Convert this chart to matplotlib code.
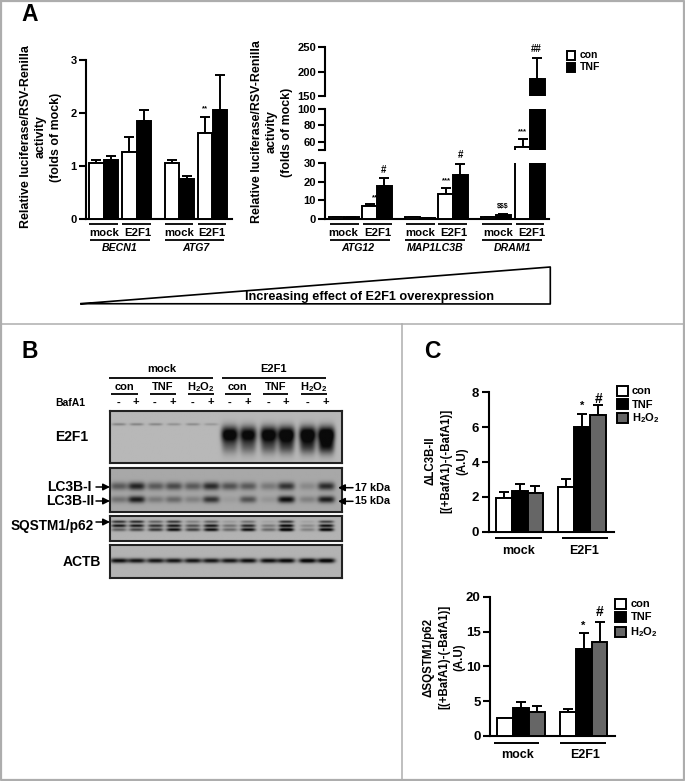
import numpy as np
import matplotlib
matplotlib.use('Agg')
import matplotlib.pyplot as plt

plt.rcParams['font.family'] = ['Liberation Sans', 'DejaVu Sans']
plt.rcParams['font.weight'] = 'bold'
plt.rcParams['mathtext.fontset'] = 'custom'
plt.rcParams['mathtext.default'] = 'regular'
plt.rcParams['mathtext.rm'] = 'Liberation Sans:bold'

W, H = 685, 781

# panel A, left
a1_con = [1.05, 1.26, 1.06, 1.63]
a1_con_top = [1.11, 1.55, 1.11, 1.93]
a1_tnf = [1.12, 1.84, 0.75, 2.05]
a1_tnf_top = [1.18, 2.06, 0.82, 2.72]
a1_genes = ['BECN1', 'ATG7']

# panel A, right
a2_con = [1.0, 7.3, 1.0, 13.5, 1.0, 54.5]
a2_con_top = [1.0, 8.3, 1.0, 16.5, 1.0, 64.0]
a2_tnf = [1.0, 17.8, 0.9, 23.5, 2.5, 185.0]
a2_tnf_top = [1.0, 22.0, 0.9, 29.5, 2.8, 229.0]
a2_genes = ['ATG12', 'MAP1LC3B', 'DRAM1']

# panel C
c1_vals = [[1.95, 2.35, 2.2], [2.55, 6.0, 6.7]]
c1_tops = [[2.3, 2.72, 2.6], [3.0, 6.75, 7.25]]
c2_vals = [[2.55, 4.0, 3.5], [3.4, 12.5, 13.5]]
c2_tops = [[2.65, 4.85, 4.3], [3.9, 14.8, 16.4]]

# blot band strength per lane (12 lanes)
e2f1_faint = [.3, .3, .28, .22, .25, .18, 0, 0, 0, 0, 0, 0]
e2f1_main = [0, 0, 0, 0, 0, 0, 1.2, 1.1, 1.2, 1.25, 1.25, 1.3]
e2f1_tail = [0, 0, 0, 0, 0, 0, .4, .45, .5, .6, .65, .85]
lc3_i = [.5, .85, .5, .6, .5, .8, .55, .5, .3, .75, .2, .8]
lc3_ii = [.35, .9, .3, .4, .25, .75, .08, .55, .12, 1, .25, .9]
p62_top = [.8, .85, .5, .75, .3, .5, .15, .4, .1, .8, .1, .7]
p62_mid = [.95, .95, .8, .95, .6, .95, .4, .85, .35, 1.1, .25, 1]
p62_low = [.5, .65, .75, 1, .7, 1, .45, 1, .45, 1.2, .3, 1.1]
actb = [1, .95, .95, .95, .95, .95, .95, 1, 1, 1.05, 1.1, 1.1]
lanes = [118.3, 136, 155, 173.3, 192.3, 210.7, 229.3, 247.7, 268.3, 286, 307.3, 326]


fig = plt.figure(figsize=(W / 100, H / 100), dpi=100, facecolor='white')
bg = fig.add_axes([0, 0, 1, 1])
bg.set_xlim(0, W)
bg.set_ylim(H, 0)
bg.axis('off')
bg.set_zorder(5)


def px_axes(x0, x1, top, bottom):
    ax = fig.add_axes([x0 / W, 1 - bottom / H, (x1 - x0) / W, (bottom - top) / H])
    ax.patch.set_alpha(0)
    ax.set_xlim(x0, x1)
    for s in ['top', 'right']:
        ax.spines[s].set_visible(False)
    for s in ax.spines.values():
        s.set_linewidth(1.5)
    ax.tick_params(width=1.5, length=5, labelsize=8, pad=1.5)
    ax.set_xticks([])
    return ax


def bar(ax, x, w, v, top, color):
    ax.bar(x, v, w, color=color, edgecolor='black', linewidth=1.4, zorder=3)
    ax.errorbar(x, v, yerr=[[0], [top - v]], color='black', capsize=3.6, elinewidth=1.4,
                capthick=1.4, zorder=2)


def t(x, y, s, size=8.5, **kw):
    kw.setdefault('ha', 'center')
    kw.setdefault('va', 'center')
    bg.text(x, y, s, fontsize=size, **kw)


def hline(x0, x1, y, lw=1.3):
    bg.plot([x0, x1], [y, y], color='black', lw=lw, solid_capstyle='butt')


def arrow(x0, x1, y):
    bg.annotate('', xy=(x1, y), xytext=(x0, y),
                arrowprops=dict(arrowstyle='-|>', color='black', lw=1.1, mutation_scale=10,
                                shrinkA=0, shrinkB=0))


# frame lines between the panels
frame = '#adadad'
bg.plot([0.5, W - 0.5, W - 0.5, 0.5, 0.5], [0.5, 0.5, H - 1.5, H - 1.5, 0.5], color=frame, lw=1.6)
bg.plot([0, W], [324, 324], color=frame, lw=1.1)
bg.plot([402.5, 402.5], [324, H], color=frame, lw=1.1)

t(29.5, 14.5, 'A', 16.5)
t(29.5, 351.5, 'B', 16.5)
t(432, 352, 'C', 16.5)

# A left
ax = px_axes(85.5, 232, 60, 219)
ax.set_ylim(0, 3)
ax.set_yticks([0, 1, 2, 3])
step = 14.6
for i, x in enumerate([103.5, 136.5, 179.5, 212.5]):
    bar(ax, x - step / 2, step, a1_con[i], a1_con_top[i], 'white')
    bar(ax, x + step / 2, step, a1_tnf[i], a1_tnf_top[i], 'black')

t(26, 137, 'Relative luciferase/RSV-Renilla', 8.9, rotation=90)
t(41, 137, 'activity', 8.9, rotation=90)
t(56, 137, '(folds of mock)', 8.9, rotation=90)
t(257, 132, 'Relative luciferase/RSV-Renilla', 8.9, rotation=90)
t(272, 132, 'activity', 8.9, rotation=90)
t(287, 132, '(folds of mock)', 8.9, rotation=90)

for x0, x1 in [(89.3, 118), (122, 151), (165, 193), (198, 226)]:
    hline(x0, x1, 224)
for x, s in [(104, 'mock'), (138, 'E2F1'), (179, 'mock'), (212, 'E2F1')]:
    t(x, 232.5, s, 8.2)
for i, (x0, x1) in enumerate([(90, 149.7), (165, 224)]):
    hline(x0, x1, 239.5)
    t([120, 196][i], 248, a1_genes[i], 7.6, style='italic')
t(205, 109, '**', 5.5)

# A right, axis broken in three pieces
spans = [(0, 30, 162.7, 219.3), (50, 100, 108.7, 150.3), (150, 250, 47.3, 96)]
ticks = [[0, 10, 20, 30], [50, 60, 80, 100], [150, 200, 250]]
labels = [['0', '10', '20', '30'], ['', '60', '80', '100'], ['150', '200', '250']]
for k, (lo, hi, top, bottom) in enumerate(spans):
    ax = px_axes(325, 549, top, bottom)
    ax.set_ylim(lo, hi)
    ax.set_yticks(ticks[k])
    ax.set_yticklabels(labels[k])
    if k > 0:
        ax.spines['bottom'].set_visible(False)
    for i, x in enumerate([344, 377, 420, 453, 496, 530]):
        if a2_con_top[i] > lo:
            bar(ax, x - step / 2, step, a2_con[i], a2_con_top[i], 'white')
        if a2_tnf_top[i] > lo:
            bar(ax, x + step / 2, step, a2_tnf[i], a2_tnf_top[i], 'black')

for x0, x1 in [(330, 359), (362.7, 391.7), (405.7, 435), (438.3, 466.7), (482.3, 511.7), (515.7, 544.3)]:
    hline(x0, x1, 224)
for x, s in [(343.3, 'mock'), (377.7, 'E2F1'), (420, 'mock'), (454, 'E2F1'), (497.7, 'mock'), (531.7, 'E2F1')]:
    t(x, 232.7, s, 8.2)
for i, (x0, x1) in enumerate([(330, 390), (405, 465), (482.3, 542.3)]):
    hline(x0, x1, 240)
    t([358, 435, 512.7][i], 248, a2_genes[i], 7.6, style='italic')
for x, y, s, size in [(376, 198, '***', 5.5), (384, 170, '#', 7), (446, 180.7, '***', 5.5), (461, 155, '#', 7),
                      (503, 206.7, '$$$', 5), (522, 131.7, '***', 5.5), (536, 49.3, '##', 7)]:
    t(x, y, s.replace('$', r'\$'), size)

bg.add_patch(plt.Rectangle((567, 50.5), 8.5, 9.5, fc='white', ec='black', lw=1.4))
bg.add_patch(plt.Rectangle((567, 63), 8.5, 9, fc='black', ec='black', lw=1.4))
t(580, 55, 'con', 7.5, ha='left')
t(580, 67, 'TNF', 7.5, ha='left')

# triangle
bg.plot([81, 550.3, 550.3, 81], [303.7, 267, 304, 303.7], color='black', lw=1.2)
t(369.5, 296.7, 'Increasing effect of E2F1 overexpression', 9.2)


# blots
def blot(top, bottom, bands, shade=0.66):
    x0, x1 = 109.5, 341.5
    ax = px_axes(x0, x1, top, bottom)
    ax.set_ylim(bottom, top)
    ax.set_yticks([])
    for s in ax.spines.values():
        s.set_visible(True)
        s.set_linewidth(1.5)
        s.set_color('#222222')
    xx, yy = np.meshgrid(np.linspace(x0, x1, 480), np.linspace(top, bottom, int((bottom - top) * 2)))
    dark = np.zeros_like(xx)
    for y, sy, sx, vals in bands:
        for lane, v in zip(lanes, vals):
            dark += v * np.exp(-((xx - lane) / sx) ** 4 - ((yy - y) / sy) ** 2)
    ax.imshow(shade * (1 - np.clip(dark, 0, 1)) + 0.04, cmap='gray', vmin=0, vmax=1, aspect='auto',
              extent=(x0, x1, bottom, top), interpolation='bilinear')


blot(411, 463.3, [(425, 1.3, 7, e2f1_faint), (435, 8, 8.5, e2f1_main), (447, 8, 8, e2f1_tail)], 0.68)
blot(467.7, 512.3, [(486.7, 4, 8.5, lc3_i), (500, 3.5, 8.5, lc3_ii)], 0.62)
blot(516, 540.7, [(521.5, 1.3, 7.5, p62_top), (525.5, 1.5, 7.5, p62_mid), (529.5, 1.7, 7.5, p62_low)], 0.66)
blot(545, 577.7, [(560.5, 2.4, 8.8, actb)], 0.66)

t(161.7, 369, 'mock', 8)
t(274, 369, 'E2F1', 8)
hline(109, 212.7, 378)
hline(222, 325.7, 378)
h2o2 = 'H$_2$O$_2$'
cond = [(125, 111, 138.3, 'con'), (162.7, 150, 175.7, 'TNF'), (201, 187.7, 213.7, h2o2),
        (237.7, 225, 250.7, 'con'), (275.3, 263.3, 288.3, 'TNF'), (313.7, 300.7, 326.7, h2o2)]
for x, x0, x1, s in cond:
    t(x, 387.3, s, 8)
    hline(x0, x1, 393.7)
t(70.7, 403.3, 'BafA1', 7.5)
for i, x in enumerate(lanes):
    t(x, 402.5, '-' if i % 2 == 0 else '+', 8)

t(71.7, 436.7, 'E2F1', 10)
t(92, 487, 'LC3B-I', 10, ha='right')
t(94, 501, 'LC3B-II', 10, ha='right')
t(94, 525.7, 'SQSTM1/p62', 9.8, ha='right')
t(81.7, 562, 'ACTB', 10)
arrow(96, 110, 487)
arrow(96, 110, 501)
arrow(96, 110, 522)
arrow(353, 338, 487.7)
arrow(353, 338, 501.3)
t(355, 487.7, '17 kDa', 7.8, ha='left')
t(355, 501.3, '15 kDa', 7.8, ha='left')

# panel C
c_colors = ['white', 'black', '#666666']


def panel_c(x0, x1, top, bottom, ymax, yticks, vals, tops, centers):
    ax = px_axes(x0, x1, top, bottom)
    ax.set_ylim(0, ymax)
    ax.set_yticks(yticks)
    ax.tick_params(labelsize=9.5, length=5, pad=2)
    w = 15.8
    for g, c in enumerate(centers):
        for j in range(3):
            bar(ax, c + (j - 1) * w, w, vals[g][j], tops[g][j], c_colors[j])


panel_c(488.7, 614, 392.3, 531.7, 8, [0, 2, 4, 6, 8], c1_vals, c1_tops, [519.6, 582])
panel_c(490.3, 615, 596.7, 736, 20, [0, 5, 10, 15, 20], c2_vals, c2_tops, [521, 583.7])

for (a, b, c), s in zip([(495, 541.7, 519), (561.7, 607.7, 584)], ['mock', 'E2F1']):
    hline(a, b, 538.3, 1.4)
    t(c, 550.7, s, 9)
for (a, b, c), s in zip([(494, 539.3, 517.7), (560, 606, 585)], ['mock', 'E2F1']):
    hline(a, b, 743.3, 1.4)
    t(c, 755, s, 9)

for i, s in enumerate(['\u0394LC3B-II', '[(+BafA1)-(-BafA1)]', '(A.U)']):
    t([431, 446, 462][i], 461, s, 8.3, rotation=90)
for i, s in enumerate(['\u0394SQSTM1/p62', '[(+BafA1)-(-BafA1)]', '(A.U)']):
    t([429, 444, 459][i], 657, s, 8.3, rotation=90)

for x, ys in [(617, [390.7, 404, 418]), (615.5, [603.5, 617, 631.5])]:
    for y, c, s in zip(ys, c_colors, ['con', 'TNF', h2o2]):
        bg.add_patch(plt.Rectangle((x, y - 5), 11, 10, fc=c, ec='black', lw=1.4))
        t(x + 15, y + 0.5, s, 8, ha='left')

for x, y, s, size in [(581.7, 405.5, '*', 8), (599, 399, '#', 10), (583, 626, '*', 8), (600, 612, '#', 10)]:
    t(x, y, s, size)

fig.savefig('out.png', dpi=100)
